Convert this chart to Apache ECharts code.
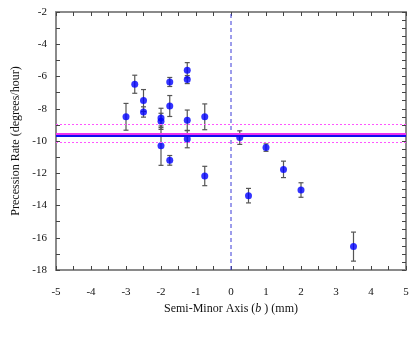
<!DOCTYPE html>
<html><head><meta charset="utf-8">
<script src="https://cdn.jsdelivr.net/npm/echarts@6/dist/echarts.min.js"></script>
<style>html,body{margin:0;padding:0;background:#fff}#c{width:415px;height:346px}</style>
</head><body><div id="c"></div>
<script>
const bVals = [-3, -2.75, -2.5, -2.5, -2, -2, -2, -1.75, -1.75, -1.75, -1.25, -1.25, -1.25, -1.25, -0.75, -0.75, 0.25, 0.5, 1, 1.5, 2, 3.5];
const rates = [-8.5, -6.48, -7.49, -8.2, -8.57, -8.78, -10.29, -6.34, -7.83, -11.2, -5.61, -6.19, -8.72, -9.88, -8.5, -12.17, -9.79, -13.39, -10.41, -11.76, -13.04, -16.55];
const errs = [0.83, 0.56, 0.68, 0.32, 0.6, 0.5, 1.22, 0.28, 0.65, 0.3, 0.47, 0.25, 0.64, 0.54, 0.8, 0.6, 0.42, 0.45, 0.23, 0.51, 0.45, 0.9];
const meanRate = -9.70;
const fitRate = -9.53;
const fitBand = [-8.97, -10.09];
const zeroB = 0;
const xTicks = [-5, 5];
const yTicks = [-18, -2];

const font = 'Liberation Serif';
const pts = bVals.map((b, i) => [b, rates[i]]);
const errData = bVals.map((b, i) => [b, rates[i] - errs[i], rates[i] + errs[i]]);

const axisLineStyle = {color: '#8a8a8a', width: 2};
const tickStyle = {color: '#444', width: 1};
const chart = echarts.init(document.getElementById('c'), null, {renderer: 'canvas'});
chart.setOption({
  animation: false,
  grid: {left: 56, right: 9, top: 12, bottom: 76},
  xAxis: [{
    type: 'value', min: xTicks[0], max: xTicks[1], interval: 1,
    name: '{n|Semi-Minor Axis (}{i|b}{n| ) (mm)}',
    nameLocation: 'middle', nameGap: 30,
    nameTextStyle: {fontFamily: font, fontSize: 12, color: '#111',
      rich: {n: {fontFamily: font, fontSize: 12, color: '#111'},
             i: {fontFamily: font, fontSize: 12, color: '#111', fontStyle: 'italic'}}},
    axisLine: {onZero: false, lineStyle: axisLineStyle},
    axisTick: {inside: true, length: 4, lineStyle: tickStyle},
    minorTick: {show: true, splitNumber: 2, length: 4, lineStyle: tickStyle},
    splitLine: {show: false},
    axisLabel: {fontFamily: font, fontSize: 11, color: '#111', margin: 17}
  }, {
    type: 'value', position: 'top', min: xTicks[0], max: xTicks[1], interval: 1,
    axisLine: {onZero: false, lineStyle: axisLineStyle},
    axisTick: {inside: true, length: 4, lineStyle: tickStyle},
    minorTick: {show: true, splitNumber: 2, length: 4, lineStyle: tickStyle},
    splitLine: {show: false}, axisLabel: {show: false}
  }],
  yAxis: [{
    type: 'value', min: yTicks[0], max: yTicks[1], interval: 2,
    name: 'Precession Rate (degrees/hour)',
    nameLocation: 'middle', nameGap: 34, nameRotate: 90,
    nameTextStyle: {fontFamily: font, fontSize: 12, color: '#111'},
    axisLine: {onZero: false, lineStyle: axisLineStyle},
    axisTick: {inside: true, length: 4, lineStyle: tickStyle},
    minorTick: {show: true, splitNumber: 2, length: 4, lineStyle: tickStyle},
    splitLine: {show: false},
    axisLabel: {fontFamily: font, fontSize: 11, color: '#111', margin: 9}
  }, {
    type: 'value', position: 'right', min: yTicks[0], max: yTicks[1], interval: 2,
    axisLine: {onZero: false, lineStyle: axisLineStyle},
    axisTick: {inside: true, length: 4, lineStyle: tickStyle},
    minorTick: {show: true, splitNumber: 4, length: 4, lineStyle: tickStyle},
    splitLine: {show: false}, axisLabel: {show: false}
  }],
  series: [{
    type: 'line', data: [], silent: true,
    markLine: {
      silent: true, symbol: 'none', label: {show: false},
      data: [
        {yAxis: fitBand[0], lineStyle: {color: '#ff55ff', type: [2, 2], width: 1}},
        {yAxis: fitBand[1], lineStyle: {color: '#ff55ff', type: [2, 2], width: 1}},
        {yAxis: fitRate, lineStyle: {color: '#ee33ee', type: 'solid', width: 2}},
        {yAxis: meanRate, lineStyle: {color: '#1010ee', type: 'solid', width: 2}}
      ]
    }
  }, {
    type: 'line', data: [[zeroB, yTicks[0]], [zeroB, yTicks[1]]], symbol: 'none', silent: true,
    lineStyle: {color: '#3a3ad8', type: [4, 3], width: 1}
  }, {
    type: 'custom', data: errData, z: 3,
    renderItem: function (params, api) {
      const x = api.value(0);
      const lo = api.coord([x, api.value(1)]);
      const hi = api.coord([x, api.value(2)]);
      const w = 2.5;
      const st = {stroke: '#555', lineWidth: 1.2};
      return {type: 'group', children: [
        {type: 'line', shape: {x1: lo[0], y1: lo[1], x2: hi[0], y2: hi[1]}, style: st},
        {type: 'line', shape: {x1: lo[0] - w, y1: lo[1], x2: lo[0] + w, y2: lo[1]}, style: st},
        {type: 'line', shape: {x1: hi[0] - w, y1: hi[1], x2: hi[0] + w, y2: hi[1]}, style: st}
      ]};
    }
  }, {
    type: 'scatter', data: pts, symbol: 'circle', symbolSize: 7, z: 4,
    itemStyle: {color: '#0000ff'}
  }]
});
</script></body></html>
